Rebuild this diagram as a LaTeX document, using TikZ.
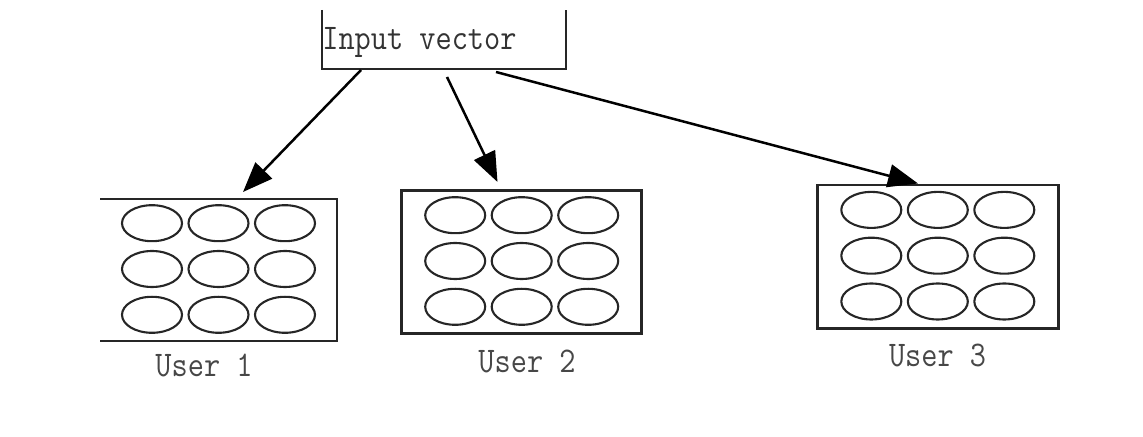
\documentclass[tikz,border=0pt]{standalone}
\usetikzlibrary{arrows.meta,calc}
\begin{document}
\begin{tikzpicture}[x=0.5pt,y=-0.5pt,
  frame/.style={draw=black!85, line width=1.4pt},
  cell/.style={draw=black!85, line width=1.05pt},
  link/.style={draw=black, line width=1.25pt, -{Triangle[length=15pt,width=11.5pt]}},
  caption/.style={font=\ttfamily\fontsize{15.7}{18}\selectfont, text=black!72, inner sep=0pt},
  pane/.style={rectangle, inner sep=0pt, outer sep=0pt}
]
\useasboundingbox (0,0) rectangle (1143,437);

% input box, open at the top
\node[pane, minimum width=122pt, minimum height=29.5pt] (inp) at (444,39.5) {};
\draw[frame] (inp.north west) -- (inp.south west) -- (inp.south east) -- (inp.north east);
\node[caption, anchor=base west, text=black!80] (inptext) at (322,50) {\scalebox{1}[1.15]{Input vector}};

% user panels
\node[pane, minimum width=118.5pt, minimum height=71pt] (u1) at (218.5,270) {};
\node[pane, minimum width=120pt, minimum height=71.3pt] (u2) at (521.7,262) {};
\node[pane, minimum width=120.5pt, minimum height=71.7pt] (u3) at (937.8,256.7) {};

% first panel has no left side
\draw[frame] (u1.north west) -- (u1.north east) -- (u1.south east) -- (u1.south west);
\draw[frame] (u2.north west) rectangle (u2.south east);
\draw[frame] (u3.north west) rectangle (u3.south east);

% 3x3 grids of units
\foreach \p in {u1,u2,u3}{
  \foreach \i in {-1,0,1}{
    \foreach \j in {-1,0,1}{
      \draw[cell] ($(\p.center)+(\i*66.5,\j*45.8-1)$) ellipse [x radius=30, y radius=18];
    }
  }
}

% panel captions
\node[caption, anchor=base] (l1) at (204,377) {\scalebox{1}[1.15]{User 1}};
\node[caption, anchor=base] (l2) at (527,372) {\scalebox{1}[1.15]{User 2}};
\node[caption, anchor=base] (l3) at (937.5,366) {\scalebox{1}[1.15]{User 3}};

% connectors
\coordinate (a1) at (361,70);
\coordinate (t1) at (243,192);
\coordinate (a2) at (447,77);
\coordinate (t2) at (497.5,182);
\coordinate (a3) at (496,72);
\coordinate (t3) at (918,183.5);
\draw[link] (a1) -- (t1);
\draw[link] (a2) -- (t2);
\draw[link] (a3) -- (t3);
\end{tikzpicture}
\end{document}
